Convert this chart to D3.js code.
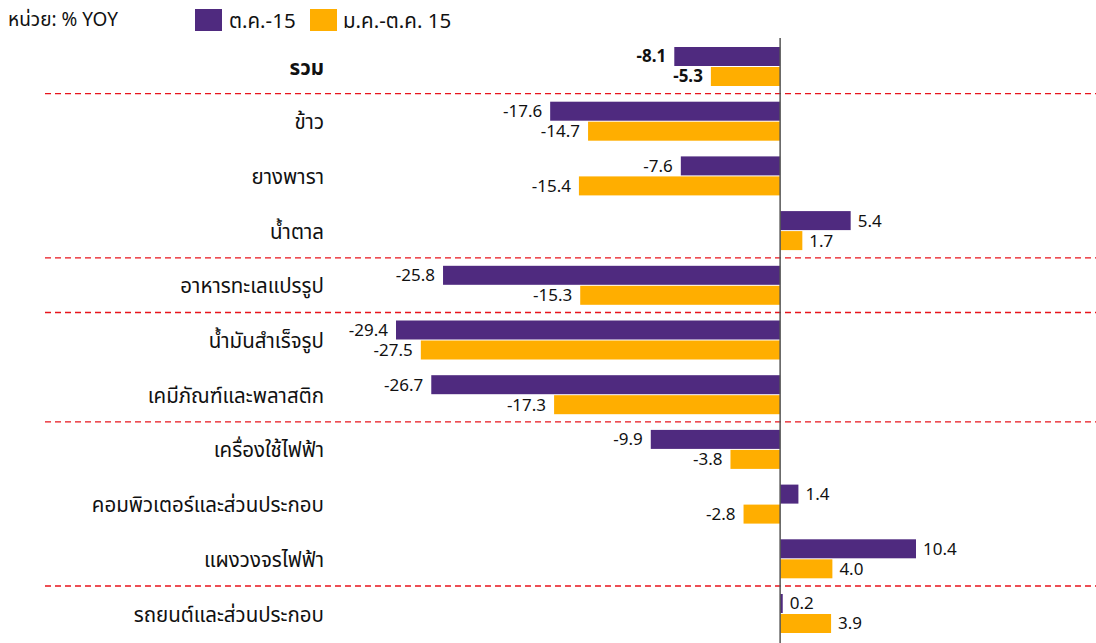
<!DOCTYPE html>
<html><head><meta charset="utf-8">
<script src="https://cdn.jsdelivr.net/npm/d3@7/dist/d3.min.js"></script>
<style>body{margin:0;background:#fff;} svg{display:block;font-family:"Noto Sans","Noto Sans Thai","Leelawadee UI",sans-serif;}</style>
</head><body><svg id="c" width="1096" height="643"></svg>
<script>
const categories = ["รวม","ข้าว","ยางพารา","น้ำตาล","อาหารทะเลแปรรูป","น้ำมันสำเร็จรูป","เคมีภัณฑ์และพลาสติก","เครื่องใช้ไฟฟ้า","คอมพิวเตอร์และส่วนประกอบ","แผงวงจรไฟฟ้า","รถยนต์และส่วนประกอบ"];
const seriesNames = ["ต.ค.-15","ม.ค.-ต.ค. 15"];
const octValues = [-8.1,-17.6,-7.6,5.4,-25.8,-29.4,-26.7,-9.9,1.4,10.4,0.2];
const ytdValues = [-5.3,-14.7,-15.4,1.7,-15.3,-27.5,-17.3,-3.8,-2.8,4.0,3.9];
const separatorsAfter = [0,3,4,6,9];
const unitLabel = "หน่วย: % YOY";
const colors = ["#4F2A7F","#FFAE00"];

const svg = d3.select("#c");
const x = d3.scaleLinear().domain([-29.4,10.4]).range([396,916]);
const y = d3.scaleBand().domain(categories).range([39,39+54.7*11]).paddingInner(0).paddingOuter(0);
const barH = 19;

// separators
separatorsAfter.forEach(i=>{
  const yy = y(categories[i]) + y.bandwidth();
  svg.append("line").attr("x1",45).attr("x2",1096).attr("y1",yy).attr("y2",yy)
    .attr("stroke","#E8141C").attr("stroke-width",1.3).attr("stroke-dasharray","6,4");
});

const series = [octValues, ytdValues];
series.forEach((vals,s)=>{
  const g = svg.append("g");
  g.selectAll("rect").data(vals).enter().append("rect")
    .attr("x",d=>Math.min(x(0),x(d)))
    .attr("width",d=>Math.max(1,Math.abs(x(d)-x(0))))
    .attr("y",(d,i)=>y(categories[i])+8+s*(barH+1))
    .attr("height",barH)
    .attr("fill",colors[s]);
  g.selectAll("text").data(vals).enter().append("text")
    .attr("x",d=>d<0 ? x(d)-8 : x(d)+7)
    .attr("y",(d,i)=>y(categories[i])+8+s*(barH+1)+barH/2)
    .attr("dy","0.35em")
    .attr("text-anchor",d=>d<0?"end":"start")
    .attr("font-size",17)
    .attr("font-weight",(d,i)=>i===0?"bold":"normal")
    .attr("fill","#111")
    .text(d=>d.toFixed(1));
});

// zero axis
svg.append("line").attr("x1",x(0)).attr("x2",x(0)).attr("y1",38).attr("y2",643)
  .attr("stroke","#555").attr("stroke-width",1.5);

// category labels
svg.append("g").selectAll("text").data(categories).enter().append("text")
  .attr("x",324).attr("y",d=>y(d)+y.bandwidth()/2+1).attr("dy","0.35em")
  .attr("text-anchor","end").attr("font-size",20.5)
  .attr("font-weight",(d,i)=>i===0?"bold":"normal").attr("fill","#111").text(d=>d);

// unit
svg.append("text").attr("x",8).attr("y",19).attr("dy","0.35em").attr("font-size",19).attr("fill","#111").text(unitLabel);

// legend
const leg = [[195,229],[310,343]];
seriesNames.forEach((n,i)=>{
  svg.append("rect").attr("x",leg[i][0]).attr("y",9).attr("width",27).attr("height",22).attr("fill",colors[i]);
  svg.append("text").attr("x",leg[i][1]).attr("y",21).attr("dy","0.35em").attr("font-size",20.5).attr("fill","#111").text(n);
});
</script></body></html>
